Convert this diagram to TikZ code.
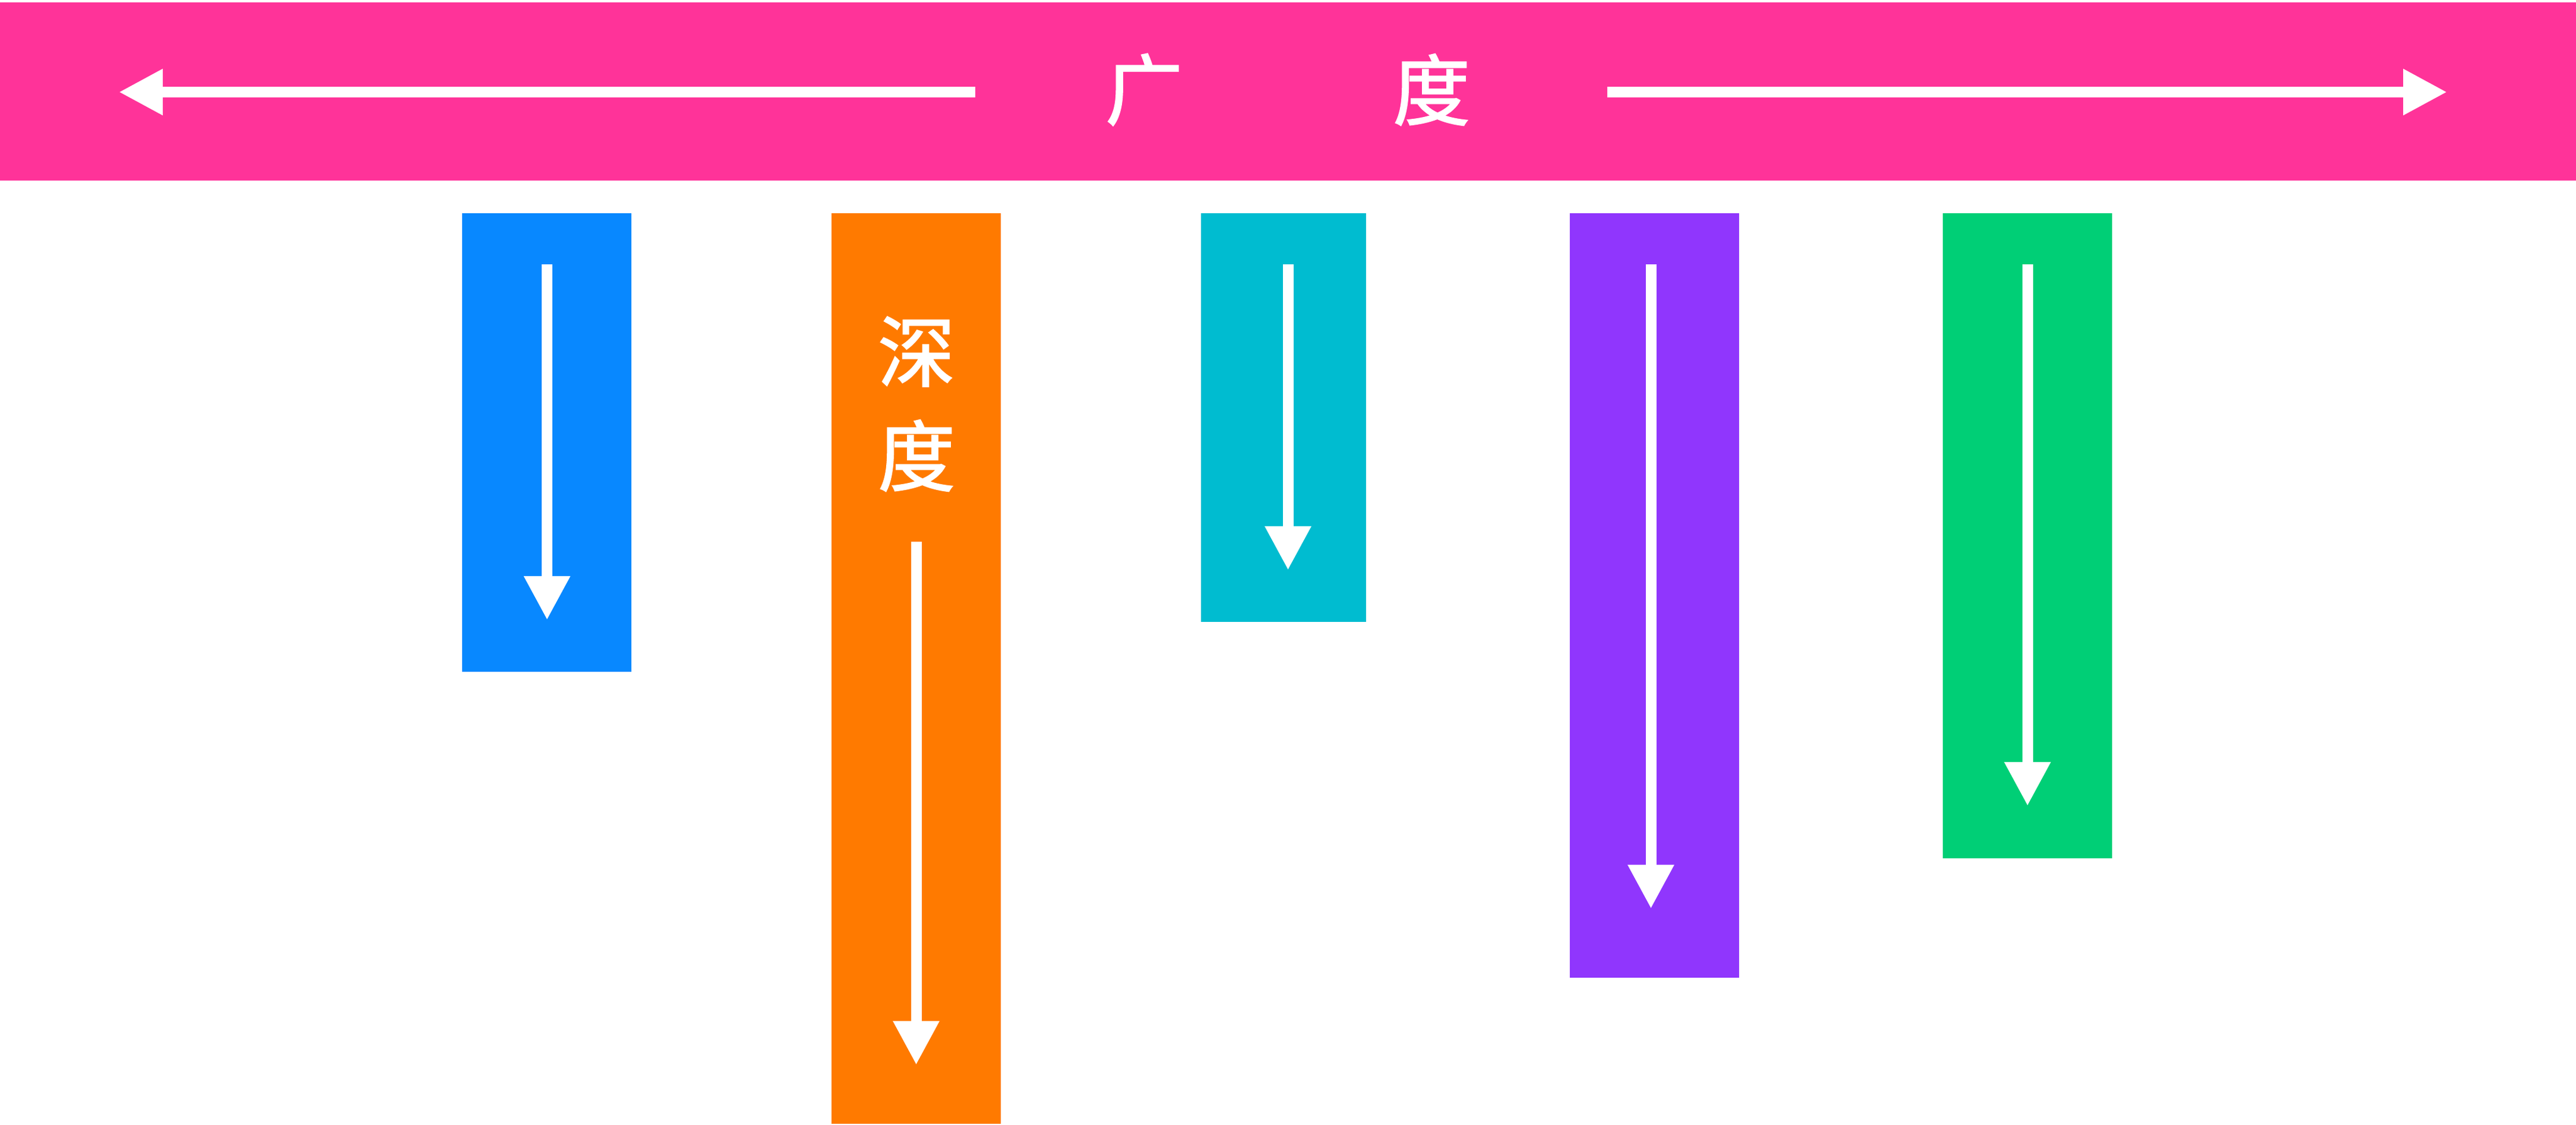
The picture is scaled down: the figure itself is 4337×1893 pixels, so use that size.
\documentclass[tikz,border=0pt]{standalone}
\usepackage{fontspec}
\newfontfamily\cjk[FakeBold=1.6]{Noto Sans CJK SC}
\usetikzlibrary{arrows.meta}
\definecolor{cpink}{HTML}{FF3399}
\definecolor{cblue}{HTML}{0888FF}
\definecolor{corange}{HTML}{FF7A00}
\definecolor{ccyan}{HTML}{00BCD0}
\definecolor{cpurple}{HTML}{9036FD}
\definecolor{cgreen}{HTML}{00CF76}
\begin{document}
\begin{tikzpicture}[x=0.01cm,y=-0.01cm,
  bar/.style={rectangle, inner sep=0pt, outer sep=0pt, anchor=north west, minimum width=2.85cm},
  warrow/.style={white, line width=0.18cm, -{Triangle[width=0.73cm,length=0.74cm]}},
  lbl/.style={text=white, font=\cjk\fontsize{37}{37}\selectfont, inner sep=0pt}]
\useasboundingbox (0,0) rectangle (4337,1893);
% top bar (breadth)
\node[bar, fill=cpink, minimum width=43.37cm, minimum height=3cm] (breadth) at (0,4) {};
\coordinate (ls) at (1642,155);
\coordinate (le) at (200,155);
\coordinate (rs) at (2706,155);
\coordinate (re) at (4120,155);
\draw[warrow] (ls) -- (le);
\draw[warrow] (rs) -- (re);
\node[lbl] (t1) at (1926,151) {广};
\node[lbl] (t2) at (2410,151) {度};
% columns
\node[bar, fill=cblue, minimum height=7.72cm] (c1) at (778,359) {};
\node[bar, fill=corange, minimum height=15.32cm] (c2) at (1400,359) {};
\node[bar, fill=ccyan, minimum width=2.78cm, minimum height=6.88cm] (c3) at (2022,359) {};
\node[bar, fill=cpurple, minimum height=12.86cm] (c4) at (2643,359) {};
\node[bar, fill=cgreen, minimum height=10.85cm] (c5) at (3271,359) {};
% depth label
\node[lbl] (d1) at (1543,592) {深};
\node[lbl] (d2) at (1543,767) {度};
% column arrows
\coordinate (a1s) at (921,445);   \coordinate (a1e) at (921,1044);
\coordinate (a2s) at (1542.5,912); \coordinate (a2e) at (1542.5,1793);
\coordinate (a3s) at (2168.5,445); \coordinate (a3e) at (2168.5,960);
\coordinate (a4s) at (2779.5,445); \coordinate (a4e) at (2779.5,1530);
\coordinate (a5s) at (3413.5,445); \coordinate (a5e) at (3413.5,1357);
\draw[warrow] (a1s) -- (a1e);
\draw[warrow] (a2s) -- (a2e);
\draw[warrow] (a3s) -- (a3e);
\draw[warrow] (a4s) -- (a4e);
\draw[warrow] (a5s) -- (a5e);
\end{tikzpicture}
\end{document}
